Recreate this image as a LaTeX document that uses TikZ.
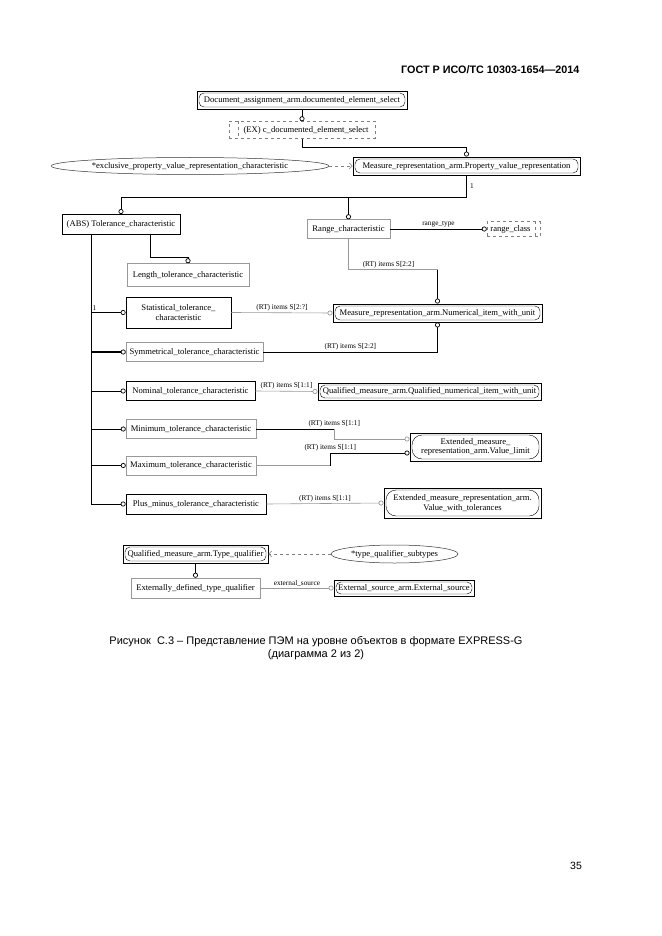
\documentclass[tikz,border=0pt]{standalone}
\usepackage{fontspec}
\setmainfont{Liberation Serif}
\newfontfamily\capfont{Liberation Sans}
\usetikzlibrary{arrows.meta,shapes.geometric}

\begin{document}
\begin{tikzpicture}[x=1pt,y=-1pt,
    every node/.style={font=\fontsize{8.6}{9.4}\selectfont},
    ent/.style={draw=gray!80,line width=.5pt,inner xsep=3pt,inner ysep=2pt,minimum height=19pt,align=center},
    entd/.style={ent,draw=black,line width=.9pt},
    sel/.style={entd,minimum height=18pt,path picture={\draw[black,line width=.4pt,rounded corners=#1]
        ([shift={(2pt,-2pt)}]path picture bounding box.north west) rectangle
        ([shift={(-2pt,2pt)}]path picture bounding box.south east);}},
    sel/.default=5pt,
    dsel/.style={draw=gray,dashed,line width=.5pt,inner xsep=3pt,minimum height=17pt},
    enum/.style={ellipse,draw=black!80,line width=.5pt,inner sep=0pt,minimum height=17pt},
    lbl/.style={font=\fontsize{7.3}{8}\selectfont,inner sep=1.5pt},
    rel/.style={draw=black,line width=1pt},
    relth/.style={draw=gray!80,line width=.6pt},
    ring/.style={-{Circle[open,length=5pt,width=5pt,line width=.7pt]}},
    dep/.style={draw=gray,dashed,line width=.5pt,-{Straight Barb[length=3pt,width=6pt]}}]
  \fill[white] (0,0) rectangle (661,936);
  \useasboundingbox (0,0) rectangle (661,936);

  \node[font=\capfont\bfseries\fontsize{10.8}{12}\selectfont,anchor=east] (hdr) at (583,70) {ГОСТ Р ИСО/ТС 10303-1654—2014};

  % upper part
  \node[sel,minimum width=210pt] (das) at (302,100) {Document\_assignment\_arm.documented\_element\_select};
  \node[dsel,minimum width=146pt] (exsel) at (302,130) {\hspace*{8pt}(EX) c\_documented\_element\_select};
  \node[sel,minimum width=227pt] (mrpvr) at (466.5,166) {Measure\_representation\_arm.Property\_value\_representation};
  \node[enum,minimum width=276pt] (epvrc) at (190,166) {*exclusive\_property\_value\_representation\_characteristic};
  \node[entd,minimum width=118pt,minimum height=20pt] (tol) at (121,224.5) {(ABS) Tolerance\_characteristic};
  \node[ent,minimum width=83pt] (rng) at (348.5,229) {Range\_characteristic};
  \node[dsel,minimum width=53pt,minimum height=15pt] (rcls) at (513.5,229) {range\_class\hspace*{6pt}};
  \node[ent,minimum width=122pt,minimum height=23pt] (lng) at (188,275) {Length\_tolerance\_characteristic};

  % subtypes
  \node[entd,minimum width=105pt,minimum height=31pt,line width=.7pt] (stat) at (178.5,312.5) {Statistical\_tolerance\_\\characteristic};
  \node[ent,minimum width=137pt] (sym) at (194.5,352) {Symmetrical\_tolerance\_characteristic};
  \node[entd,minimum width=129pt,line width=.7pt] (nom) at (190.5,391) {Nominal\_tolerance\_characteristic};
  \node[ent,minimum width=130pt] (mint) at (191,429) {Minimum\_tolerance\_characteristic};
  \node[ent,minimum width=130pt] (maxt) at (191,465.5) {Maximum\_tolerance\_characteristic};
  \node[entd,minimum width=140pt,minimum height=20pt,line width=.7pt] (pmt) at (196,504) {Plus\_minus\_tolerance\_characteristic};

  % referenced
  \node[sel,minimum width=209pt] (mrniwu) at (437.5,313) {Measure\_representation\_arm.Numerical\_item\_with\_unit};
  \node[sel,minimum width=223pt,minimum height=17pt] (qnum) at (429.5,391.5) {Qualified\_measure\_arm.Qualified\_numerical\_item\_with\_unit};
  \node[sel=10pt,minimum width=131pt,minimum height=28pt] (vlim) at (475.5,447) {Extended\_measure\_\\representation\_arm.Value\_limit};
  \node[sel=10pt,minimum width=157pt,minimum height=30pt] (vwt) at (462.5,503) {Extended\_measure\_representation\_arm.\\Value\_with\_tolerances};

  % lower part
  \node[sel,minimum width=145pt] (tq) at (195.5,554) {Qualified\_measure\_arm.Type\_qualifier};
  \node[enum,minimum width=127pt,minimum height=18pt] (tqs) at (394.5,554) {*type\_qualifier\_subtypes};
  \node[ent,minimum width=129pt,minimum height=20pt] (edtq) at (195.5,588) {Externally\_defined\_type\_qualifier};
  \node[sel,minimum width=140pt,minimum height=16pt] (exsrc) at (404,588) {External\_source\_arm.External\_source};

  \coordinate (bus) at (0,197);
  \coordinate (trk) at ([xshift=-30pt]tol.south);
  \coordinate (vlin1) at ([yshift=8pt]vlim.west);
  \coordinate (vlin2) at ([yshift=-6pt]vlim.west);

  \draw[dashed,gray,line width=.5pt] ([xshift=9pt]exsel.north west) -- ([xshift=9pt]exsel.south west);
  \draw[dashed,gray,line width=.5pt] ([xshift=-5pt]rcls.north east) -- ([xshift=-5pt]rcls.south east);

  \draw[rel,line width=.7pt,ring] (das.south) -- (exsel.north);
  \draw[rel,line width=.7pt,ring] (exsel.south) -- ++(0,9) -| (mrpvr.north);
  \draw[dep] (epvrc.east) -- (mrpvr.west);
  \draw[rel,ring] (mrpvr.south) -- (mrpvr.south |- bus) -| (tol.north);
  \draw[rel,ring] (mrpvr.south |- bus) -| (rng.north);
  \node[lbl,anchor=west] (one1) at ([shift={(2pt,-11pt)}]mrpvr.south) {1};
  \draw[rel,ring] (rng.east) -- node[lbl,above] (rtype) {range\_type} (rcls.west);
  \draw[rel,ring] ([xshift=29pt]tol.south) -- ++(0,23) -| (lng.north);

  \draw[rel,line width=.8pt] (trk) -- (trk |- pmt.west);
  \node[lbl,anchor=south west] (one2) at (trk |- stat.west) {1};
  \draw[rel,ring] (trk |- stat.west) -- (stat.west);
  \draw[rel,line width=1.5pt,ring] (trk |- sym.west) -- (sym.west);
  \draw[rel,ring] (trk |- nom.west) -- (nom.west);
  \draw[rel,ring] (trk |- mint.west) -- (mint.west);
  \draw[rel,ring] (trk |- maxt.west) -- (maxt.west);
  \draw[rel,ring] (trk |- pmt.west) -- (pmt.west);

  \draw[relth] (rng.south) -- ++(0,31) coordinate (rk) -- (rk -| mrniwu.north);
  \draw[rel,ring] (rk -| mrniwu.north) -- (mrniwu.north);
  \node[lbl,above] (rt1) at ([xshift=40pt]rk) {(RT) items S[2:2]};
  \draw[relth,ring] (stat.east) -- node[lbl,above] (rt2) {(RT) items S[2:?]} (mrniwu.west);
  \draw[rel,ring] (sym.east) -- node[lbl,above,pos=.5] (rt3) {(RT) items S[2:2]} (sym.east -| mrniwu.south) -- (mrniwu.south);
  \draw[relth,ring] (nom.east) -- node[lbl,above] (rt4) {(RT) items S[1:1]} (qnum.west);
  \draw[rel] (mint.east) -- ++(78,0) coordinate (mk);
  \draw[relth,ring] (mk) |- (vlin1);
  \node[lbl,above] (rt5) at (mk) {(RT) items S[1:1]};
  \draw[relth] (maxt.east) -- ++(74,0) coordinate (mx);
  \draw[rel,ring] (mx) |- (vlin2);
  \node[lbl,above] (rt6) at (mx |- vlin2) {(RT) items S[1:1]};
  \draw[relth,ring] (pmt.east) -- node[lbl,above] (rt7) {(RT) items S[1:1]} (vwt.west);

  \draw[dep] (tqs.west) -- (tq.east);
  \draw[rel,line width=.8pt,ring] (tq.south) -- (edtq.north);
  \draw[relth,ring] (edtq.east) -- node[lbl,above] (esrc) {external\_source} (exsrc.west);

  \node[font=\capfont\fontsize{11}{13.5}\selectfont,align=center] (cap) at (316,648) {Рисунок\ \ С.3 – Представление ПЭМ на уровне объектов в формате EXPRESS-G\\(диаграмма 2 из 2)};
  \node[font=\capfont\fontsize{10.5}{12}\selectfont] (pg) at (576,866) {35};
\end{tikzpicture}
\end{document}
